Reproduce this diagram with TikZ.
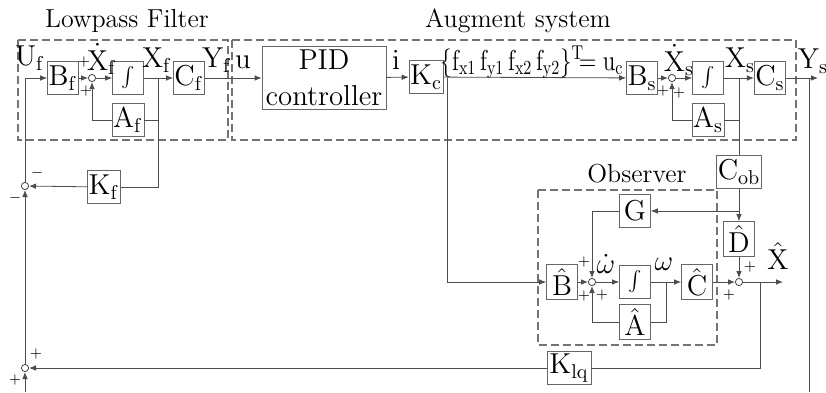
\documentclass[tikz,border=0pt]{standalone}
\usetikzlibrary{arrows.meta}
\begin{document}
\begin{tikzpicture}[x=0.5pt,y=-0.5pt,
  blk/.style={draw=black!60,minimum width=15.5pt,minimum height=16.5pt,inner sep=0.5pt,font=\Large},
  sum/.style={circle,draw=black!75,inner sep=0pt,minimum size=3.6pt},
  group/.style={draw=black!55,dash pattern=on 4pt off 2pt,line width=0.7pt},
  lbl/.style={font=\Large,inner sep=0pt},
  sgn/.style={font=\scriptsize,inner sep=0pt},
  title/.style={font=\fontsize{13}{15}\selectfont,inner sep=0pt},
  wire/.style={draw=black!70},
  arrow/.style={-{Latex[length=3.5pt,width=2.8pt]},draw=black!70}
]
\useasboundingbox (0,0) rectangle (826,392);
\draw[group] (18,40) rectangle (228,140);
\draw[group] (232,40) rectangle (796,140);
\draw[group] (538,190) rectangle (717,345);
\node[title] (lowpass) at (127,21) {Lowpass Filter};
\node[title] (augment) at (518,21) {Augment system};
\node[title] (observer) at (637,174) {Observer};
\node[blk] (Bf) at (63,78) {$\mathrm{B}_\mathrm{f}$};
\node[sum] (s1) at (92,78) {};
\node[blk] (intf) at (128,78) {$\int$};
\node[blk] (Af) at (128,120) {$\mathrm{A}_\mathrm{f}$};
\node[blk] (Cf) at (189,78) {$\mathrm{C}_\mathrm{f}$};
\node[blk] (Kf) at (104,187) {$\mathrm{K}_\mathrm{f}$};
\node[sum] (s5) at (25,186) {};
\node[sum] (s6) at (25,368) {};
\node[blk,minimum width=62pt,minimum height=31.5pt,align=center] (pid) at (324,78) {PID\\controller};
\node[blk] (Kc) at (426,77) {$\mathrm{K}_\mathrm{c}$};
\node[blk] (Bs) at (642,78) {$\mathrm{B}_\mathrm{s}$};
\node[sum] (s2) at (672,78) {};
\node[blk] (ints) at (708,78) {$\int$};
\node[blk] (As) at (708,120) {$\mathrm{A}_\mathrm{s}$};
\node[blk] (Cs) at (770,78) {$\mathrm{C}_\mathrm{s}$};
\node[blk,minimum width=19pt] (Cob) at (739,172) {$\mathrm{C}_\mathrm{ob}$};
\node[blk] (G) at (635,211) {$\mathrm{G}$};
\node[blk,minimum height=17.5pt] (Dhat) at (739,239) {$\hat{\mathrm{D}}$};
\node[blk,minimum height=17.5pt] (Bhat) at (562,282) {$\hat{\mathrm{B}}$};
\node[sum] (s3) at (592,282) {};
\node[blk] (into) at (635,282) {$\int$};
\node[blk,minimum height=17.5pt] (Ahat) at (635,322) {$\hat{\mathrm{A}}$};
\node[blk,minimum height=17.5pt] (Chat) at (697,282) {$\hat{\mathrm{C}}$};
\node[sum] (s4) at (739,282) {};
\node[blk,minimum width=22pt] (Klq) at (569,368) {$\mathrm{K}_\mathrm{lq}$};
\coordinate (xf) at (158,78);
\coordinate (kc) at (447,78);
\coordinate (xs) at (739,78);
\coordinate (ys) at (809,78);
\coordinate (yend) at (818,78);
\coordinate (ybot) at (809,392);
\coordinate (gj) at (739,211);
\coordinate (om) at (666,282);
\coordinate (xh) at (760,282);
\coordinate (xend) at (783,282);
\coordinate (fb) at (25,392);
\draw[arrow] (s5) |- (Bf);
\draw[arrow] (Bf) -- (s1);
\draw[arrow] (s1) -- (intf);
\draw[arrow] (intf) -- (Cf);
\draw[wire] (xf) |- (Af);
\draw[arrow] (Af) -| (s1);
\draw[wire] (xf) |- (Kf);
\draw[arrow] (Kf) -- (s5);
\draw[arrow] (Cf) -- (pid);
\draw[arrow] (pid) -- (Kc);
\draw[arrow] (Kc) -- (Bs);
\draw[arrow] (kc) |- (Bhat);
\draw[arrow] (Bs) -- (s2);
\draw[arrow] (s2) -- (ints);
\draw[arrow] (ints) -- (Cs);
\draw[wire] (xs) |- (As);
\draw[arrow] (As) -| (s2);
\draw[wire] (xs) -- (Cob);
\draw[arrow] (Cs) -- (yend);
\draw[wire] (ys) -- (ybot);
\draw[arrow] (Cob) -- (Dhat);
\draw[arrow] (gj) -- (G);
\draw[arrow] (G) -| (s3);
\draw[arrow] (Bhat) -- (s3);
\draw[arrow] (s3) -- (into);
\draw[arrow] (into) -- (Chat);
\draw[wire] (om) |- (Ahat);
\draw[arrow] (Ahat) -| (s3);
\draw[arrow] (Chat) -- (s4);
\draw[arrow] (Dhat) -- (s4);
\draw[arrow] (s4) -- (xend);
\draw[wire] (xh) |- (Klq);
\draw[arrow] (Klq) -- (s6);
\draw[arrow] (fb) -- (s6);
\draw[arrow] (s6) -- (s5);
\node[lbl] (uf) at (30,58) {$\mathrm{U}_\mathrm{f}$};
\node[lbl] (dxf) at (102,59) {$\dot{\mathrm{X}}_\mathrm{f}$};
\node[lbl] (xfl) at (157,60) {$\mathrm{X}_\mathrm{f}$};
\node[lbl] (yf) at (217,60) {$\mathrm{Y}_\mathrm{f}$};
\node[lbl] (ul) at (243,62) {$\mathrm{u}$};
\node[lbl] (il) at (396,60) {$\mathrm{i}$};
\node[lbl,anchor=base] (ucl) at (532,70) {\scalebox{0.8}[1]{$\{\mathrm{f}_\mathrm{x1}\,\mathrm{f}_\mathrm{y1}\,\mathrm{f}_\mathrm{x2}\,\mathrm{f}_\mathrm{y2}\}^\mathrm{T}\!\!\!=\mathrm{u}_\mathrm{c}$}};
\node[lbl] (dxs) at (679,60) {$\dot{\mathrm{X}}_\mathrm{s}$};
\node[lbl] (xsl) at (740,60) {$\mathrm{X}_\mathrm{s}$};
\node[lbl] (ysl) at (813,61) {$\mathrm{Y}_\mathrm{s}$};
\node[lbl] (dom) at (606,264) {$\dot{\omega}$};
\node[lbl] (oml) at (664,264) {$\omega$};
\node[lbl] (xhl) at (778,256) {$\hat{\mathrm{X}}$};
\node[sgn] (p1) at (84,62) {$+$};
\node[sgn] (p2) at (86,91) {$+$};
\node[sgn] (p3) at (663,91) {$+$};
\node[sgn] (p4) at (679,93) {$+$};
\node[sgn] (p5) at (584,262) {$+$};
\node[sgn] (p6) at (584,296) {$+$};
\node[sgn] (p7) at (602,295) {$+$};
\node[sgn] (p8) at (729,295) {$+$};
\node[sgn] (p9) at (750,267) {$+$};
\node[sgn] (m1) at (37,173) {$-$};
\node[sgn] (m2) at (15,198) {$-$};
\node[sgn] (p10) at (36,354) {$+$};
\node[sgn] (p11) at (15,380) {$+$};
\end{tikzpicture}
\end{document}
